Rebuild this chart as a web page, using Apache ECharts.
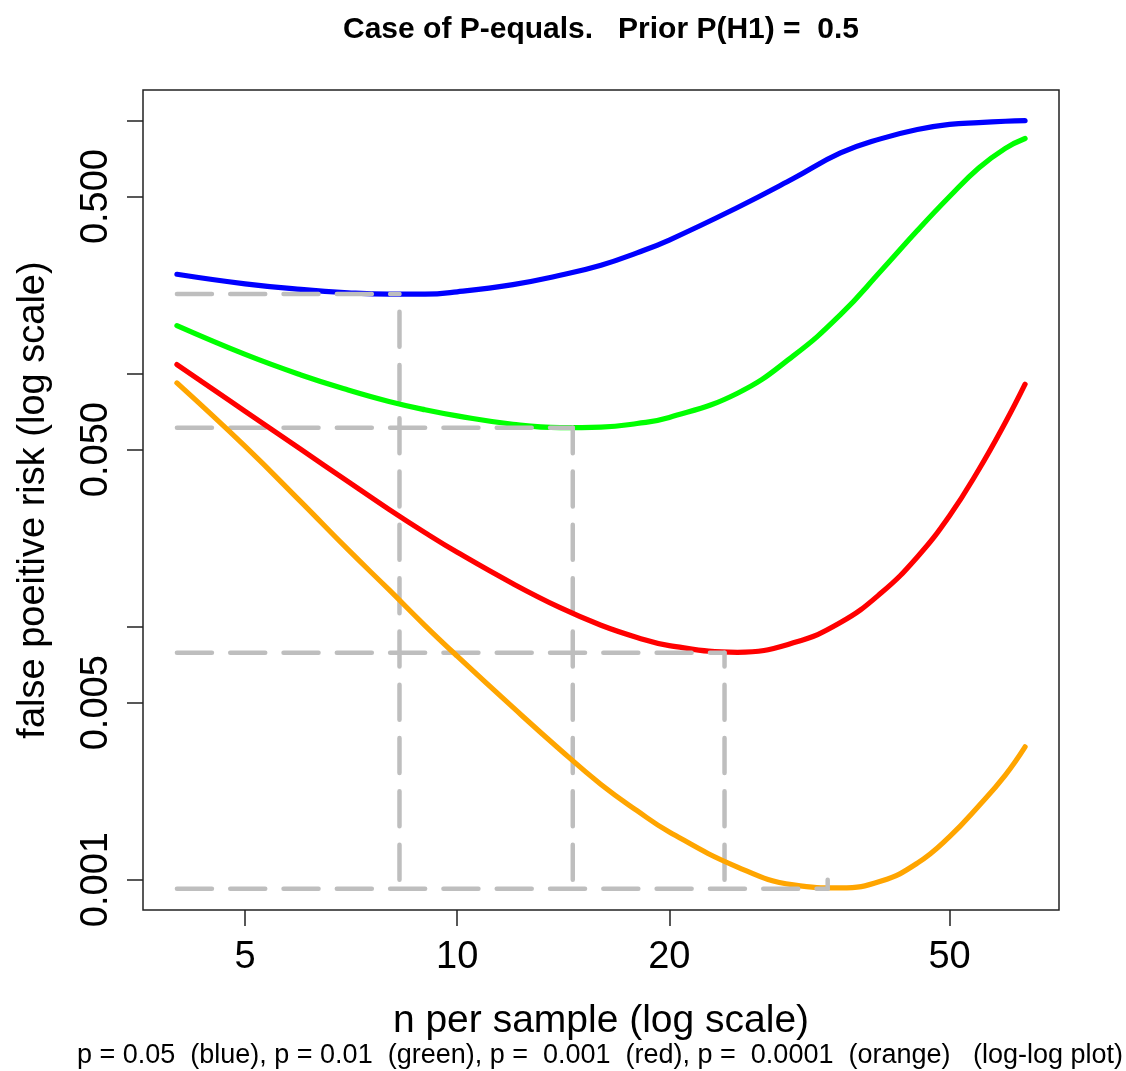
<!DOCTYPE html>
<html>
<head>
<meta charset="utf-8">
<script src="https://cdn.jsdelivr.net/npm/echarts@6/dist/echarts.min.js"></script>
<style>
html,body{margin:0;padding:0;background:#fff;}
#c{width:1126px;height:1071px;}
</style>
</head>
<body>
<div id="c"></div>
<script>
// ---- data ----
const nGrid = [4,5,6,7,8,9,10,12,14,16,18,20,25,30,35,40,45,50,55,60,64];
const fprP05 = [0.2466,0.2260,0.2148,0.2084,0.2058,0.2058,0.2102,0.2245,0.2443,0.2676,0.2997,0.3367,0.4526,0.5889,0.7432,0.8469,0.9206,0.9643,0.9802,0.9919,0.9982];
const fprP01 = [0.1545,0.1189,0.09865,0.08601,0.07748,0.07186,0.06799,0.06299,0.06113,0.06141,0.06344,0.06695,0.08355,0.1173,0.1707,0.2552,0.3671,0.5002,0.6485,0.7754,0.8477];
const fprP001 = [0.1084,0.07082,0.05010,0.03737,0.02904,0.02350,0.01965,0.01476,0.01187,0.01012,0.00906,0.00841,0.00791,0.00862,0.01037,0.01359,0.01884,0.02742,0.04164,0.06397,0.09067];
const fprP0001 = [0.09175,0.05149,0.03109,0.02012,0.01398,0.01009,0.00764,0.00479,0.00326,0.002378,0.001873,0.001543,0.001121,0.000953,0.000927,0.000987,0.001162,0.001479,0.001954,0.002589,0.003347];
const minN = [8.28, 14.59, 23.96, 33.57];
const minFPR = [0.2061, 0.0610, 0.00788, 0.000920];
const xLim = [4, 64];
const yLim = [0.001, 1];
const xTicks = [5, 10, 20, 50];
const yTicks = [1, 0.5, 0.1, 0.05, 0.01, 0.005, 0.001];
const yLabels = [0.5, 0.05, 0.005, 0.001];
const titleText = 'Case of P-equals.   Prior P(H1) =  0.5';
const xTitle = 'n per sample (log scale)';
const yTitle = 'false poeitive risk (log scale)';
const subText = 'p = 0.05  (blue), p = 0.01  (green), p =  0.001  (red), p =  0.0001  (orange)   (log-log plot)';

// ---- chart ----
const L = Math.log10;
const FF = '"Liberation Sans", Arial, Helvetica, sans-serif';
const xr = [L(xLim[0]), L(xLim[1])];
const yr = [L(yLim[0]), L(yLim[1])];
const xMin = xr[0] - 0.04 * (xr[1] - xr[0]);
const xMax = xr[1] + 0.04 * (xr[1] - xr[0]);
const yMin = yr[0] - 0.04 * (yr[1] - yr[0]);
const yMax = yr[1] + 0.04 * (yr[1] - yr[0]);

const curves = [fprP05, fprP01, fprP001, fprP0001];
const colors = ['#0000FF', '#00FF00', '#FF0000', '#FFA500'];
const series = [];
let z = 2;
curves.forEach((vals, i) => {
  series.push({
    type: 'line', z: z++, smooth: 0.45, showSymbol: false, silent: true,
    data: nGrid.map((n, k) => [L(n), L(vals[k])]),
    lineStyle: { color: colors[i], width: 5.2, cap: 'round', join: 'round' }
  });
  const dash = { color: '#BEBEBE', width: 4.5, type: [35, 18.3], cap: 'round' };
  series.push({
    type: 'line', z: z++, showSymbol: false, silent: true,
    data: [[L(xLim[0]), L(minFPR[i])], [L(minN[i]), L(minFPR[i])]],
    lineStyle: dash
  });
  series.push({
    type: 'line', z: z++, showSymbol: false, silent: true,
    data: [[L(minN[i]), L(yLim[0])], [L(minN[i]), L(minFPR[i])]],
    lineStyle: dash
  });
});

const chart = echarts.init(document.getElementById('c'), null, { renderer: 'canvas' });
chart.setOption({
  animation: false,
  backgroundColor: '#ffffff',
  grid: {
    left: 143, right: 67, top: 90, bottom: 161,
    show: true, borderColor: '#222', borderWidth: 1.5,
    containLabel: false, outerBoundsMode: 'none'
  },
  graphic: [
    { type: 'text', x: 601, y: 30, style: { text: titleText, x: 0, y: 0, textAlign: 'center', textVerticalAlign: 'middle', font: 'bold 30px ' + FF, fill: '#000' } },
    { type: 'text', x: 600, y: 1056, style: { text: subText, x: 0, y: 0, textAlign: 'center', textVerticalAlign: 'middle', font: '27px ' + FF, fill: '#000' } }
  ],
  xAxis: {
    type: 'value', min: xMin, max: xMax,
    axisLine: { show: false, onZero: false },
    splitLine: { show: false },
    axisTick: { show: true, length: 16, lineStyle: { color: '#222', width: 1.5 }, customValues: xTicks.map(L) },
    axisLabel: {
      customValues: xTicks.map(L),
      formatter: v => String(Math.round(Math.pow(10, v))),
      fontSize: 38, color: '#000', fontFamily: FF, margin: 29
    },
    name: xTitle, nameLocation: 'middle', nameGap: 92,
    nameTextStyle: { fontSize: 39, color: '#000', fontFamily: FF }
  },
  yAxis: {
    type: 'value', min: yMin, max: yMax,
    axisLine: { show: false, onZero: false },
    splitLine: { show: false },
    axisTick: { show: true, length: 16, lineStyle: { color: '#222', width: 1.5 }, customValues: yTicks.map(L) },
    axisLabel: {
      customValues: yLabels.map(L),
      formatter: v => Math.pow(10, v).toFixed(3),
      rotate: 90, fontSize: 38, color: '#000', fontFamily: FF, margin: 27
    },
    name: yTitle, nameLocation: 'middle', nameRotate: 90, nameGap: 90,
    nameTextStyle: { fontSize: 38, color: '#000', fontFamily: FF }
  },
  series: series
});
</script>
</body>
</html>
